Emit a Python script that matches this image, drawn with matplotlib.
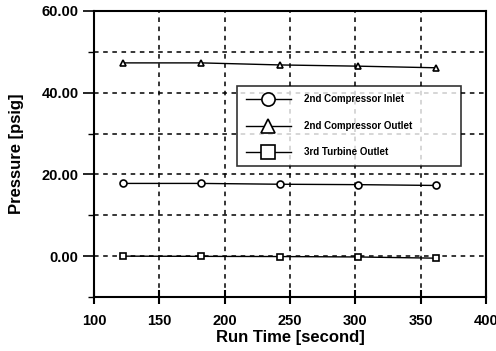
import matplotlib
matplotlib.use("Agg")
import matplotlib.pyplot as plt
from matplotlib.ticker import MultipleLocator, FormatStrFormatter

plt.rcParams['font.family'] = ['Liberation Sans', 'DejaVu Sans']
plt.rcParams['font.weight'] = 'bold'

run_time = [122, 182, 242, 302, 362]
comp2_inlet = [17.8, 17.8, 17.6, 17.5, 17.3]
comp2_outlet = [47.3, 47.3, 46.8, 46.5, 46.1]
turb3_outlet = [0.0, -0.05, -0.1, -0.2, -0.5]

series_names = ['2nd Compressor Inlet', '2nd Compressor Outlet', '3rd Turbine Outlet']

fig = plt.figure(figsize=(4.96, 3.51), dpi=100)
ax = fig.add_axes([94 / 496, 54 / 351, 392 / 496, 286 / 351])

for ys, mk, name in zip([comp2_inlet, comp2_outlet, turb3_outlet], ['o', '^', 's'], series_names):
    ax.plot(run_time, ys, color='black', lw=1.0, marker=mk, ms=5,
            mfc='white', mec='black', mew=1.2, label=name)

ax.set_xlim(100, 400)
ax.set_ylim(-10, 60)
ax.xaxis.set_major_locator(MultipleLocator(50))
ax.yaxis.set_major_locator(MultipleLocator(20))
ax.yaxis.set_minor_locator(MultipleLocator(10))
ax.yaxis.set_major_formatter(FormatStrFormatter('%.2f'))

ax.grid(True, which='both', color='black', ls=(0, (3, 3)), lw=1.1)
for sp in ax.spines.values():
    sp.set_linewidth(1.5)

ax.tick_params(axis='y', which='major', direction='out', length=8, width=1.2, labelsize=10.5, pad=3)
ax.tick_params(axis='y', which='minor', direction='out', length=4, width=1.0)
ax.tick_params(axis='x', direction='inout', length=10, width=1.5, labelsize=10.5, pad=7)
for lbl in ax.get_xticklabels() + ax.get_yticklabels():
    lbl.set_fontweight('bold')

ax.set_xlabel('Run Time [second]', fontsize=12, fontweight='bold', labelpad=2)
ax.set_ylabel('Pressure [psig]', fontsize=12, fontweight='bold', labelpad=13)

leg = ax.legend(loc='center', bbox_to_anchor=(0.365, 0.455, 0.571, 0.286), mode='expand',
                fontsize=7, frameon=True, fancybox=False, edgecolor='black',
                markerscale=1.9, handlelength=4.6, borderpad=0.9, labelspacing=1.7,
                handletextpad=1.4, borderaxespad=0)
leg.get_frame().set_linewidth(1.2)
for t in leg.get_texts():
    t.set_fontweight('bold')

fig.savefig('out.png', dpi=100)
